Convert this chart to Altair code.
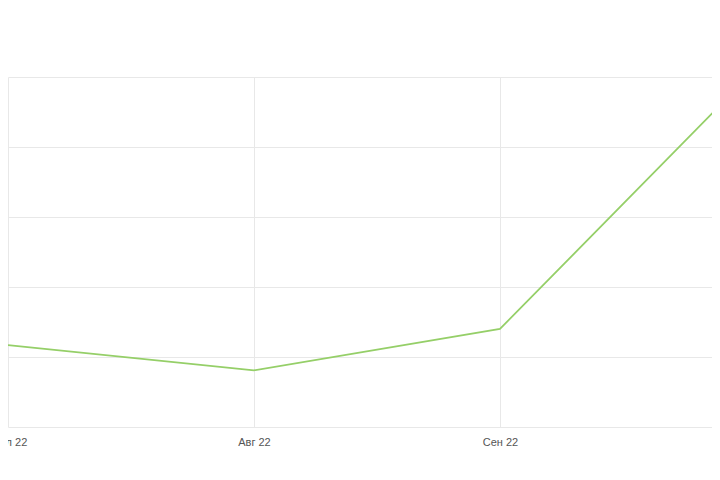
import altair as alt
import pandas as pd

months = ["Июл 22", "Авг 22", "Сен 22", "Окт 22"]
idx = [0, 1, 2, 3]
values = [117, 81, 140, 497]

df = pd.DataFrame({"i": idx, "month": months, "value": values})

label_expr = "datum.value == 0 ? 'Июл 22' : datum.value == 1 ? 'Авг 22' : datum.value == 2 ? 'Сен 22' : 'Окт 22'"

chart = alt.Chart(df).mark_line(color="#95cf68", strokeWidth=1.8, clip=True).encode(
    x=alt.X("i:Q", scale=alt.Scale(domain=[0, 2.862], nice=False, zero=False),
            axis=alt.Axis(values=[0, 1, 2], labelExpr=label_expr, title=None, domain=False,
                          ticks=False, labelPadding=9, labelFontSize=11, labelColor="#555555",
                          labelFont="Liberation Sans", gridColor="#e8e8e8", labelFlush=False)),
    y=alt.Y("value:Q", scale=alt.Scale(domain=[0, 500], nice=False),
            axis=alt.Axis(values=[0, 100, 200, 300, 400, 500], labels=False, ticks=False,
                          domain=False, title=None, gridColor="#e8e8e8")),
).properties(
    width=704, height=350,
    padding={"top": 69, "left": 0, "right": 0, "bottom": 40},
    autosize="none",
).configure_view(stroke=None)

chart.save("out.html", embed_options={"renderer": "svg", "actions": False})
